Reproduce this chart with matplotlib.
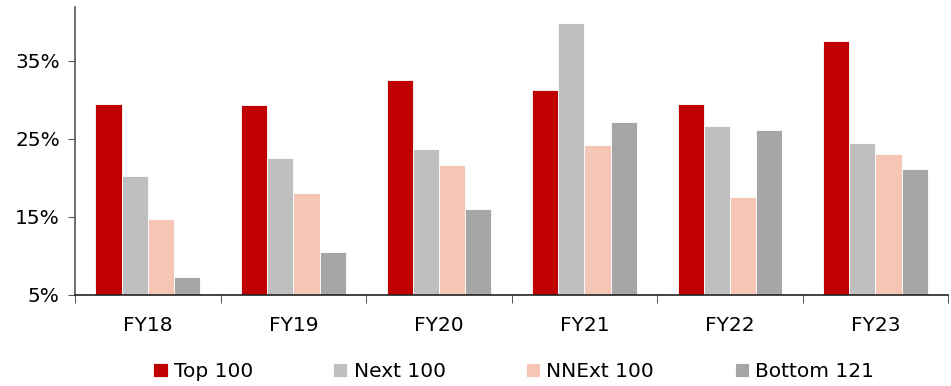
import matplotlib.pyplot as plt
import numpy as np

# share of each cohort by fiscal year (%)
years = ['FY18', 'FY19', 'FY20', 'FY21', 'FY22', 'FY23']
top_100 = [29.5, 29.3, 32.6, 31.3, 29.4, 37.5]
next_100 = [20.3, 22.5, 23.7, 39.9, 26.7, 24.5]
nnext_100 = [14.7, 18.0, 21.7, 24.2, 17.6, 23.1]
bottom_121 = [7.3, 10.5, 16.0, 27.2, 26.1, 21.1]

series = [top_100, next_100, nnext_100, bottom_121]
names = ['Top 100', 'Next 100', 'NNExt 100', 'Bottom 121']
colors = ['#C00000', '#BFBFBF', '#F5C6B5', '#A6A6A6']

plt.rcParams['font.family'] = ['DejaVu Sans']

fig = plt.figure(figsize=(9.51, 3.86), dpi=100)
ax = fig.add_axes([0.079, 0.236, 0.918, 0.746])

x = np.arange(len(years))
w = 0.18
base = 5
for i, (vals, name, col) in enumerate(zip(series, names, colors)):
    heights = np.array(vals) - base
    ax.bar(x + (i - 1.5) * w, heights, w, bottom=base, color=col,
           edgecolor='white', linewidth=0.6, label=name)

ax.set_xlim(-0.5, len(years) - 0.5)
ax.set_ylim(5, 41.9)
ax.set_yticks([5, 15, 25, 35])
ax.set_yticklabels(['5%', '15%', '25%', '35%'], fontsize=14.5)

# category labels centred, ticks on the group boundaries
ax.set_xticks(x)
ax.set_xticklabels(years, fontsize=14.5)
ax.tick_params(axis='x', length=0, pad=15)
ax.set_xticks(np.arange(len(years) + 1) - 0.5, minor=True)
ax.tick_params(axis='x', which='minor', length=6, direction='out', color='#333333')
ax.tick_params(axis='y', length=5, direction='out', color='#555555', pad=6)

for s in ['top', 'right']:
    ax.spines[s].set_visible(False)
ax.spines['left'].set_color('#555555')
ax.spines['bottom'].set_color('#222222')
ax.spines['left'].set_linewidth(1.2)
ax.spines['bottom'].set_linewidth(1.2)

handles, labels = ax.get_legend_handles_labels()
fig.legend(handles, labels, loc='center', bbox_to_anchor=(0.54, 0.037), ncol=4,
           frameon=False, fontsize=14.5, handlelength=0.7,
           handleheight=0.7, handletextpad=0.3, columnspacing=4.0)

fig.savefig('out.png', dpi=100)
